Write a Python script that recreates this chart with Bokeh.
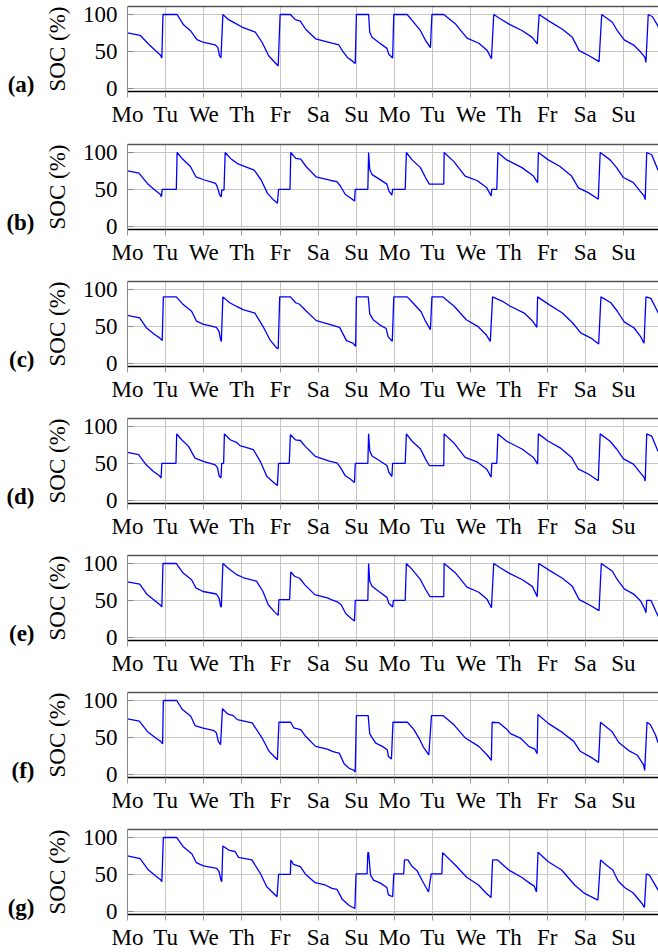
from bokeh.plotting import figure
from bokeh.layouts import column
from bokeh.models import FixedTicker, LinearAxis, Range1d
from bokeh.embed import file_html
from bokeh.resources import INLINE

# Two weeks of day labels along the time axis (t in days from Monday 00:00)
day_labels = ["Mo", "Tu", "We", "Th", "Fr", "Sa", "Su"] * 2
soc_ticks = [0, 50, 100]
panel_names = ["(a)", "(b)", "(c)", "(d)", "(e)", "(f)", "(g)"]

# ---- battery state of charge traces, one per scenario ----
t_a = [0, 0.33, 0.55, 0.73, 0.86, 0.9,
       0.93, 1.30, 1.47, 1.65, 1.82, 2.0, 2.3, 2.37, 2.41, 2.45,
       2.5, 2.65, 2.83, 3.0, 3.35, 3.53, 3.7, 3.95,
       4.0, 4.27, 4.4, 4.53, 4.67, 4.93, 5.36, 5.54, 5.63, 5.76, 5.89, 5.97,
       6.0, 6.32, 6.35, 6.41, 6.59, 6.8, 6.85, 6.95,
       6.98, 7.33, 7.46, 7.68, 7.81, 7.94,
       7.98, 8.29, 8.6, 8.9, 9.21, 9.43, 9.54,
       9.6, 9.78, 10.0, 10.35, 10.61, 10.74,
       10.79, 11.05, 11.4, 11.66, 11.84, 12.1, 12.36,
       12.43, 12.71, 12.84, 13.02, 13.28, 13.45, 13.56, 13.59,
       13.65, 13.76, 13.9, 13.97]
soc_a = [75, 71.8, 60, 51, 45, 41,
         100, 100, 86, 78, 66, 62, 58.6, 55, 44, 41,
         100, 93, 88, 83, 76, 62, 44, 30,
         100, 100, 93, 91, 80, 67, 61, 58.6, 51, 42, 37, 33.6,
         100, 100, 76, 69, 62, 54, 46, 41,
         100, 100, 92, 78, 65, 55,
         100, 100, 87, 68, 61, 51, 40,
         100, 94, 87, 78, 69, 60,
         100, 91, 80, 69, 51, 44, 36,
         100, 89.5, 78, 65.5, 58, 49, 42, 35,
         100, 97, 85, 74]

t_b = [0, 0.3, 0.52, 0.69, 0.85, 0.89,
       0.91, 1.28,
       1.3, 1.43, 1.65, 1.79, 2.0, 2.31, 2.35, 2.42, 2.46,
       2.47, 2.53,
       2.56, 2.7, 2.88, 3.32, 3.5, 3.67, 3.84, 3.93,
       3.96, 4.26,
       4.28, 4.41, 4.54, 4.68, 4.94, 5.33, 5.49, 5.58, 5.71, 5.84, 5.95,
       5.97, 6.3,
       6.32, 6.35, 6.41, 6.58, 6.8, 6.85, 6.93,
       6.95, 7.28,
       7.31, 7.46, 7.68, 7.81, 7.91, 8.29,
       8.3, 8.55, 8.85, 9.16, 9.42, 9.53,
       9.55, 9.68,
       9.71, 9.94, 10.34, 10.64, 10.75,
       10.77, 11.03, 11.34, 11.64, 11.82, 12.08, 12.34,
       12.39, 12.65, 12.82, 13.0, 13.26, 13.43, 13.54, 13.57,
       13.61, 13.74, 13.9, 13.97]
soc_b = [75, 72, 58, 50, 43.6, 40,
         50, 50,
         100, 92, 81, 67, 63, 58, 54, 42, 40,
         49, 49,
         100, 92, 85, 76, 63, 44.5, 35, 31,
         50, 50,
         100, 92, 91, 81, 67, 62, 60.5, 54.5, 43, 38.6, 34,
         50, 50,
         100, 77, 70, 64.5, 57, 48, 42,
         50, 50,
         100, 90, 79.5, 66, 57, 57,
         100, 88, 68, 62, 52, 41,
         50, 50,
         100, 90, 79.5, 68, 59,
         100, 90, 81, 68, 52, 45.5, 36.4,
         100, 90, 79.5, 66, 59, 48, 41, 36,
         100, 97, 77, 73]

t_c = [0, 0.32, 0.5, 0.72, 0.85, 0.91,
       0.94, 1.28, 1.46, 1.68, 1.81, 1.98, 2.33, 2.4, 2.44, 2.46,
       2.5, 2.68, 2.86, 3.03, 3.34, 3.55, 3.73, 3.9, 3.95,
       3.99, 4.27, 4.41, 4.51, 4.69, 4.95, 5.34, 5.56, 5.74, 5.91, 5.98,
       6.0, 6.31, 6.35, 6.44, 6.61, 6.78, 6.83, 6.94,
       6.98, 7.33, 7.48, 7.7, 7.81, 7.94,
       7.98, 8.27, 8.57, 8.88, 9.18, 9.4, 9.51,
       9.57, 9.83, 10.01, 10.4, 10.62, 10.73,
       10.75, 11.05, 11.4, 11.67, 11.88, 12.15, 12.35,
       12.41, 12.67, 12.84, 13.02, 13.28, 13.45, 13.54,
       13.59, 13.72, 13.89, 13.97]
soc_c = [65, 61.4, 47.7, 38.6, 34, 30.5,
         90, 90, 79.5, 70.5, 57, 53, 48.6, 43, 32, 29.5,
         90, 82, 77, 72.7, 68, 50, 32, 21, 19.5,
         90, 90, 82, 80, 70.5, 57.7, 52, 48.6, 30.5, 27, 22.7,
         90, 90, 67, 59, 52, 47, 36, 29.5,
         90, 90, 82, 69.5, 57, 45.5,
         90, 90, 77, 59, 50, 38.6, 29.5,
         90, 84, 78, 68, 57, 48.6,
         90, 79.5, 68, 54.5, 41, 34, 26,
         90, 82, 70.5, 56, 47.7, 36, 27,
         90, 88, 70.5, 62]

t_d = [0, 0.29, 0.49, 0.68, 0.84, 0.88,
       0.9, 1.27,
       1.29, 1.42, 1.6, 1.77, 1.99, 2.3, 2.36, 2.4, 2.45,
       2.47, 2.52,
       2.54, 2.69, 2.87, 2.95, 3.3, 3.48, 3.65, 3.83, 3.93,
       3.96, 4.24,
       4.27, 4.4, 4.53, 4.66, 4.92, 5.31, 5.49, 5.58, 5.71, 5.84, 5.95,
       5.97, 6.3,
       6.32, 6.35, 6.41, 6.58, 6.8, 6.85, 6.93,
       6.95, 7.28,
       7.31, 7.46, 7.68, 7.81, 7.91, 8.29,
       8.3, 8.55, 8.85, 9.16, 9.42, 9.53,
       9.55, 9.68,
       9.71, 9.94, 10.34, 10.64, 10.75,
       10.77, 11.03, 11.34, 11.64, 11.82, 12.08, 12.34,
       12.39, 12.65, 12.82, 13.0, 13.26, 13.43, 13.54, 13.57,
       13.61, 13.74, 13.9, 13.97]
soc_d = [65, 61.7, 48, 39, 33, 30,
         50, 50,
         90, 82, 73, 57, 52.7, 48, 43.7, 33, 30,
         50, 50,
         90, 82, 78, 74, 68.5, 52.7, 32.4, 24, 20,
         50, 50,
         89, 82, 81, 73, 59.5, 52.7, 50.5, 44.5, 33, 28.6, 24,
         50, 50,
         90, 67, 60, 54.5, 47, 38, 32,
         50, 50,
         90, 80, 69.5, 56, 47, 47,
         90, 78, 58, 52, 42, 31,
         50, 50,
         90, 80, 69.5, 58, 49,
         90, 80, 71, 58, 42, 35.5, 26.4,
         90, 80, 69.5, 56, 49, 38, 31, 26,
         90, 87, 67, 63]

t_e = [0, 0.32, 0.5, 0.72, 0.85, 0.9,
       0.93, 1.28, 1.46, 1.68, 1.79, 1.98, 2.33, 2.4, 2.44, 2.46,
       2.5, 2.68, 2.86, 3.03, 3.38, 3.55, 3.69, 3.86, 3.95,
       3.97, 4.25,
       4.28, 4.38, 4.51, 4.65, 4.91, 5.26, 5.34, 5.5, 5.6, 5.72, 5.85, 5.95,
       5.97, 6.3,
       6.32, 6.35, 6.41, 6.59, 6.8, 6.85, 6.95,
       6.97, 7.28,
       7.31, 7.46, 7.68, 7.81, 7.93, 8.29,
       8.3, 8.6, 8.9, 9.21, 9.43, 9.54,
       9.6, 9.78, 10.0, 10.35, 10.61, 10.74,
       10.78, 11.05, 11.4, 11.66, 11.84, 12.1, 12.36,
       12.42, 12.71, 12.84, 13.02, 13.28, 13.45, 13.56, 13.59,
       13.61, 13.72, 13.85, 13.97]
soc_e = [75, 72, 58.6, 49.5, 44, 41,
         100, 100, 87, 78, 67, 62, 58.6, 53, 42, 41,
         100, 92, 85, 81, 76, 62, 44, 34, 29.5,
         51, 51,
         88.6, 82.7, 80, 71, 57.7, 53, 51, 48, 44, 32, 26, 22,
         50, 50,
         100, 76, 69, 62, 54, 46, 41,
         50, 50,
         100, 92, 78, 65, 55, 55,
         100, 87, 68, 61, 51, 40,
         100, 94, 87, 78, 69, 55,
         100, 91, 80, 69, 51, 44, 36,
         100, 89.5, 78, 65.5, 58, 49, 38, 33,
         50, 50, 35, 22]

t_f = [0, 0.31, 0.52, 0.74, 0.87, 0.92,
       0.94, 1.29, 1.44, 1.66, 1.77, 1.96, 2.27, 2.33, 2.38, 2.44,
       2.49, 2.62, 2.77, 2.88, 3.27, 3.53, 3.71, 3.93,
       3.97, 4.28, 4.36, 4.54, 4.67, 4.93, 5.24, 5.37, 5.46, 5.55, 5.68, 5.81, 5.94, 5.97,
       6.0, 6.31, 6.35, 6.42, 6.51, 6.68, 6.81, 6.84, 6.92,
       6.96, 7.34, 7.51, 7.64, 7.77, 7.9,
       7.97, 8.27, 8.56, 8.86, 9.21, 9.43, 9.54,
       9.56, 9.73, 9.95, 10.04, 10.3, 10.52, 10.68, 10.74,
       10.76, 11.04, 11.39, 11.7, 11.87, 12.18, 12.35,
       12.4, 12.53, 12.7, 12.88, 13.14, 13.36, 13.53, 13.56,
       13.62, 13.71, 13.84, 13.91, 14.0]
soc_f = [75, 72, 58, 49, 44.5, 41,
         100, 100, 87.7, 78.6, 66, 62.7, 59, 56, 44.5, 40,
         89, 82, 79.5, 74, 69.5, 49, 31, 19.5,
         70.5, 70.5, 62.7, 60.5, 51.4, 37.7, 34, 31, 29.5, 28.6, 14, 8, 5, 2.7,
         79.5, 79.5, 55, 49, 42, 37.7, 33, 24, 20.5,
         70.5, 70.5, 60.5, 49, 35.5, 26,
         79.5, 79.5, 67, 49, 37.7, 26, 18.6,
         70.5, 70, 60.5, 55, 49, 37.7, 34, 27.7,
         81, 68.6, 57, 44.5, 31, 22, 16,
         70.5, 65, 58, 43, 32, 26, 12.7, 5,
         70.5, 67, 53.6, 43, 41]

t_g = [0, 0.33, 0.53, 0.73, 0.86, 0.9,
       0.94, 1.29, 1.47, 1.69, 1.8, 1.99, 2.34, 2.4, 2.45, 2.47,
       2.5, 2.65, 2.82, 2.91, 3.26, 3.48, 3.65, 3.92,
       3.96, 4.27,
       4.28, 4.35, 4.53, 4.66, 4.92, 5.18, 5.36, 5.49, 5.63, 5.8, 5.96,
       5.99, 6.28,
       6.3, 6.32, 6.37, 6.45, 6.63, 6.8, 6.84, 6.95,
       6.98, 7.24,
       7.26, 7.35, 7.45, 7.59, 7.72, 7.89,
       7.96, 8.24,
       8.26, 8.59, 8.89, 9.2, 9.39, 9.53,
       9.57, 9.7, 9.89, 10.02, 10.33, 10.55, 10.66, 10.72,
       10.76, 11.03, 11.38, 11.72, 11.98, 12.33,
       12.4, 12.55, 12.72, 12.86, 13.03, 13.25, 13.47, 13.55,
       13.6, 13.68, 13.86, 13.97]
soc_g = [75, 71.4, 57, 48, 43, 40,
         100, 100, 87, 77.7, 66, 61.4, 58, 53.6, 42, 40,
         88.6, 83, 81, 73, 69.5, 51.4, 33, 19.5,
         50, 50,
         69.5, 63.6, 60.5, 50.5, 38.6, 35.5, 31, 29.5, 16, 8, 3.6,
         50.5, 50.5,
         79.5, 79.5, 49, 42, 38, 32, 22, 19.5,
         50.5, 50.5,
         69.5, 69.5, 61.4, 55, 42, 26,
         50.5, 50.5,
         79.5, 62.7, 46, 35.5, 25, 18.6,
         69.5, 69.5, 60.5, 55, 46, 37.7, 34, 26,
         80, 67, 55.9, 35.5, 24, 15,
         69.5, 62.7, 55.9, 41, 32, 25, 11.4, 5,
         50.5, 49, 33, 23]

series = [(t_a, soc_a), (t_b, soc_b), (t_c, soc_c), (t_d, soc_d),
          (t_e, soc_e), (t_f, soc_f), (t_g, soc_g)]

# ---- layout ----
PAGE_W = 658
DAY_PX = 38.15
FRAME_H = 85
Y_LO, Y_HI = -4.6, 110.9
lefts = [126, 127, 124, 127, 124, 122, 126]
tops = [6, 6, 6, 6, 6, 6, 6]
bottoms = [47, 46, 46, 46, 46, 46, 38]
closed_right = [False, False, False, False, False, True, False]

SERIF = "Liberation Serif"
FS = "23px"
LETTER_STANDOFF = 7   # gap between panel letter and the "SOC (%)" axis block
# vertical anchor of the panel letter: sits on the frame's bottom line
LETTER_Y = Y_LO + 7.0 * (Y_HI - Y_LO) / FRAME_H


def edge_axis(color, width):
    return LinearAxis(ticker=FixedTicker(ticks=[]), major_label_text_font_size="0px",
                      major_tick_in=0, major_tick_out=0, minor_tick_line_color=None,
                      major_label_standoff=0, axis_line_color=color, axis_line_width=width)


def make_panel(i):
    t, soc = series[i]
    left = lefts[i]
    if closed_right[i]:
        right_pad = 2
        fw = PAGE_W - left - right_pad
        x_end = 14
    else:
        right_pad = 0
        fw = PAGE_W - left
        x_end = fw / DAY_PX

    p = figure(frame_width=fw, frame_height=FRAME_H,
               x_range=Range1d(0, x_end), y_range=Range1d(Y_LO, Y_HI),
               output_backend="svg", toolbar_location=None,
               min_border_left=left, min_border_right=right_pad,
               min_border_top=tops[i], min_border_bottom=bottoms[i])
    p.outline_line_color = None
    p.background_fill_color = "white"
    p.border_fill_color = "white"

    n_ticks = 15 if closed_right[i] else 14
    xt = FixedTicker(ticks=list(range(n_ticks)))
    yt = FixedTicker(ticks=soc_ticks)

    # grid
    p.xgrid.ticker = xt
    p.ygrid.ticker = yt
    p.xgrid.grid_line_color = "#c6c6c6"
    p.ygrid.grid_line_color = "#c6c6c6"
    p.xgrid.grid_line_width = 1
    p.ygrid.grid_line_width = 1

    # bottom axis with day names
    xa = p.xaxis[0]
    xa.ticker = xt
    xa.major_label_overrides = {k: (day_labels[k] if k < len(day_labels) else "")
                                for k in range(n_ticks)}
    xa.major_label_text_font = SERIF
    xa.major_label_text_font_size = FS
    xa.major_label_text_color = "black"
    xa.major_label_standoff = 4
    xa.major_tick_in = 0
    xa.major_tick_out = 6
    xa.major_tick_line_color = "#999999"
    xa.minor_tick_line_color = None
    xa.axis_line_color = "black"
    xa.axis_line_width = 1.3

    # left axis
    ya = p.yaxis[0]
    ya.ticker = yt
    ya.axis_label = "SOC (%)"
    ya.axis_label_text_font = SERIF
    ya.axis_label_text_font_size = FS
    ya.axis_label_text_font_style = "normal"
    ya.axis_label_text_color = "black"
    ya.axis_label_standoff = 10
    ya.major_label_text_font = SERIF
    ya.major_label_text_font_size = FS
    ya.major_label_text_color = "black"
    ya.major_label_standoff = 10
    ya.major_tick_in = 6
    ya.major_tick_out = 0
    ya.major_tick_line_color = "#888888"
    ya.minor_tick_line_color = None
    ya.axis_line_color = "#888888"
    ya.axis_line_width = 1

    # outer left axis carrying only the bold panel letter
    letter_axis = LinearAxis(ticker=FixedTicker(ticks=[LETTER_Y]),
                             major_label_overrides={LETTER_Y: panel_names[i]},
                             major_label_text_font=SERIF,
                             major_label_text_font_style="bold",
                             major_label_text_font_size=FS,
                             major_label_text_color="black",
                             major_label_standoff=LETTER_STANDOFF,
                             major_tick_in=0, major_tick_out=0,
                             minor_tick_line_color=None, axis_line_color=None)
    p.add_layout(letter_axis, "left")

    # frame border lines
    p.add_layout(edge_axis("#555555", 1.6), "above")
    if closed_right[i]:
        p.add_layout(edge_axis("black", 1.3), "right")

    p.line(t, soc, line_color="#0000ff", line_width=1.3)
    return p


figs = [make_panel(i) for i in range(len(series))]
layout = column(*figs, spacing=0)
open("out.html", "w").write(file_html(layout, INLINE))
